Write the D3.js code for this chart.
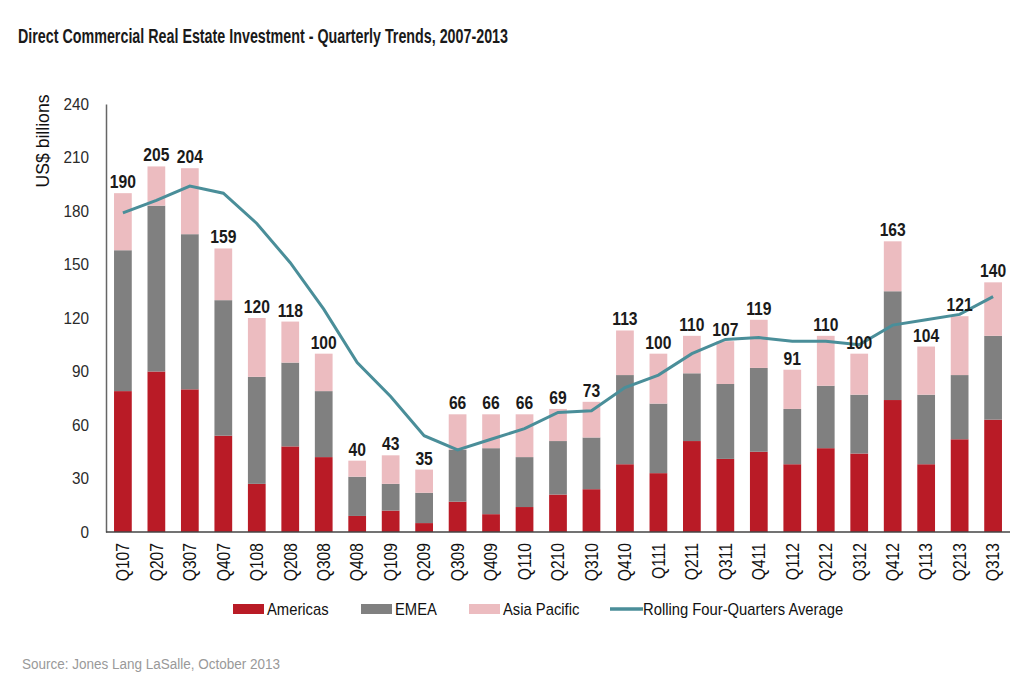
<!DOCTYPE html>
<html>
<head>
<meta charset="utf-8">
<script src="https://cdn.jsdelivr.net/npm/d3@7"></script>
<style>
  body { margin: 0; background: #fff; }
  text { font-family: "Liberation Sans Narrow", "Liberation Sans", Arial, sans-serif; }
</style>
</head>
<body>
<div id="chart"></div>
<script>
// quarters on the x axis
var quarters = ["Q107","Q207","Q307","Q407","Q108","Q208","Q308","Q408","Q109","Q209",
                "Q309","Q409","Q110","Q210","Q310","Q410","Q111","Q211","Q311","Q411",
                "Q112","Q212","Q312","Q412","Q113","Q213","Q313"];

// regional volumes, US$ billions
var americas    = [79, 90, 80, 54, 27, 48, 42,  9, 12,  5, 17, 10, 14, 21, 24, 38, 33, 51, 41, 45, 38, 47, 44, 74, 38, 52, 63];
var emea        = [79, 93, 87, 76, 60, 47, 37, 22, 15, 17, 29, 37, 28, 30, 29, 50, 39, 38, 42, 47, 31, 35, 33, 61, 39, 36, 47];
var asiaPacific = [32, 22, 37, 29, 33, 23, 21,  9, 16, 13, 20, 19, 24, 18, 20, 25, 28, 21, 24, 27, 22, 28, 23, 28, 27, 33, 30];

// totals printed above the bars
var totals = [190, 205, 204, 159, 120, 118, 100, 40, 43, 35, 66, 66, 66, 69, 73, 113, 100, 110, 107, 119, 91, 110, 100, 163, 104, 121, 140];

// rolling four-quarters average
var rolling = [179, 186, 194, 190, 173, 151, 125, 95, 76, 54, 46, 52, 58, 67, 68, 81, 88, 100, 108, 109, 107, 107, 105, 116, 119, 122, 132];

var yTicks = [0, 30, 60, 90, 120, 150, 180, 210, 240];

var seriesNames = ["Americas", "EMEA", "Asia Pacific"];
var colors = {"Americas": "#b91b26", "EMEA": "#808080", "Asia Pacific": "#ecbcc0"};
var lineColor = "#4a8e99";

var W = 1024, H = 683;
var margin = {top: 104, right: 14, bottom: 151, left: 106};

var svg = d3.select("#chart").append("svg")
    .attr("width", W)
    .attr("height", H);

// no narrow font installed, so squeeze the text horizontally
function squeeze(sel, k) {
    sel.each(function() {
        var t = d3.select(this);
        var tx = +t.attr("x") || 0, ty = +t.attr("y") || 0;
        var prev = t.attr("transform") || "";
        t.attr("transform", prev + " translate(" + tx + "," + ty + ") scale(" + k + ",1)")
            .attr("x", 0)
            .attr("y", 0);
    });
}

// build a table for the stack
var table = quarters.map(function(q, i) {
    return {q: q, "Americas": americas[i], "EMEA": emea[i], "Asia Pacific": asiaPacific[i],
            total: totals[i], avg: rolling[i]};
});

var x = d3.scaleBand()
    .domain(quarters)
    .range([margin.left, W - margin.right])
    .paddingInner(0.47)
    .paddingOuter(0.24);

var y = d3.scaleLinear()
    .domain([0, 240])
    .range([H - margin.bottom, margin.top]);

// title
svg.append("text")
    .attr("x", 18)
    .attr("y", 43)
    .attr("font-size", 21)
    .attr("font-weight", "bold")
    .attr("fill", "#1a1a1a")
    .attr("textLength", 490)
    .attr("lengthAdjust", "spacingAndGlyphs")
    .text("Direct Commercial Real Estate Investment - Quarterly Trends, 2007-2013");

// stacked bars
var stacked = d3.stack().keys(seriesNames)(table);

svg.append("g").selectAll("g")
    .data(stacked)
    .enter().append("g")
    .attr("fill", function(d) { return colors[d.key]; })
    .selectAll("rect")
    .data(function(d) { return d; })
    .enter().append("rect")
    .attr("x", function(d) { return x(d.data.q); })
    .attr("y", function(d) { return y(d[1]); })
    .attr("width", x.bandwidth())
    .attr("height", function(d) { return y(d[0]) - y(d[1]); });

// y axis
var yAxis = svg.append("g")
    .attr("transform", "translate(" + margin.left + ",0)")
    .call(d3.axisLeft(y).tickValues(yTicks).tickSize(0).tickPadding(17));
yAxis.select(".domain").attr("stroke", "#666").attr("stroke-width", 1.5);
yAxis.selectAll("text").attr("font-size", 17).attr("fill", "#2a2a2a");
squeeze(yAxis.selectAll("text"), 0.9);

// x axis
var xAxis = svg.append("g")
    .attr("transform", "translate(0," + y(0) + ")")
    .call(d3.axisBottom(x).tickSize(0));
xAxis.select(".domain").attr("stroke", "#444").attr("stroke-width", 1.5)
    .attr("d", "M" + margin.left + ",0H" + (W - margin.right));
xAxis.selectAll("text")
    .attr("font-size", 18)
    .attr("fill", "#111")
    .attr("transform", "rotate(-90)")
    .attr("text-anchor", "end")
    .attr("dy", "0.35em")
    .attr("x", -11)
    .attr("y", 0);
squeeze(xAxis.selectAll("text"), 0.87);

// y axis title
svg.append("text")
    .attr("transform", "translate(49,141) rotate(-90)")
    .attr("text-anchor", "middle")
    .attr("font-size", 18)
    .attr("fill", "#111")
    .attr("textLength", 93)
    .attr("lengthAdjust", "spacingAndGlyphs")
    .text("US$ billions");

// rolling average line
var line = d3.line()
    .x(function(d) { return x(d.q) + x.bandwidth() / 2; })
    .y(function(d) { return y(d.avg); });

svg.append("path")
    .datum(table)
    .attr("d", line)
    .attr("fill", "none")
    .attr("stroke", lineColor)
    .attr("stroke-width", 3);

// totals above the bars
var labels = svg.append("g").selectAll("text")
    .data(table)
    .enter().append("text")
    .attr("x", function(d) { return x(d.q) + x.bandwidth() / 2; })
    .attr("y", function(d) { return y(d.total) - 5; })
    .attr("text-anchor", "middle")
    .attr("font-size", 18)
    .attr("font-weight", "bold")
    .attr("fill", "#1a1a1a")
    .text(function(d) { return d.total; });
squeeze(labels, 0.87);

// legend
var legendItems = [
    {name: "Americas", x: 233, type: "rect"},
    {name: "EMEA", x: 361, type: "rect"},
    {name: "Asia Pacific", x: 469, type: "rect"},
    {name: "Rolling Four-Quarters Average", x: 610, type: "line"}
];
var legend = svg.append("g").selectAll("g")
    .data(legendItems)
    .enter().append("g")
    .attr("transform", function(d) { return "translate(" + d.x + ",609)"; });

legend.filter(function(d) { return d.type == "rect"; })
    .append("rect")
    .attr("y", -5)
    .attr("width", 31)
    .attr("height", 10)
    .attr("fill", function(d) { return colors[d.name]; });

legend.filter(function(d) { return d.type == "line"; })
    .append("line")
    .attr("x1", 0).attr("x2", 33)
    .attr("stroke", lineColor)
    .attr("stroke-width", 3.5);

var legendText = legend.append("text")
    .attr("x", function(d) { return d.type == "rect" ? 34 : 33; })
    .attr("dy", "0.35em")
    .attr("font-size", 17)
    .attr("fill", "#111")
    .text(function(d) { return d.name; });
squeeze(legendText, 0.87);

// source
svg.append("text")
    .attr("x", 22)
    .attr("y", 669)
    .attr("font-size", 14)
    .attr("fill", "#999")
    .attr("textLength", 258)
    .attr("lengthAdjust", "spacingAndGlyphs")
    .text("Source: Jones Lang LaSalle, October 2013");
</script>
</body>
</html>
